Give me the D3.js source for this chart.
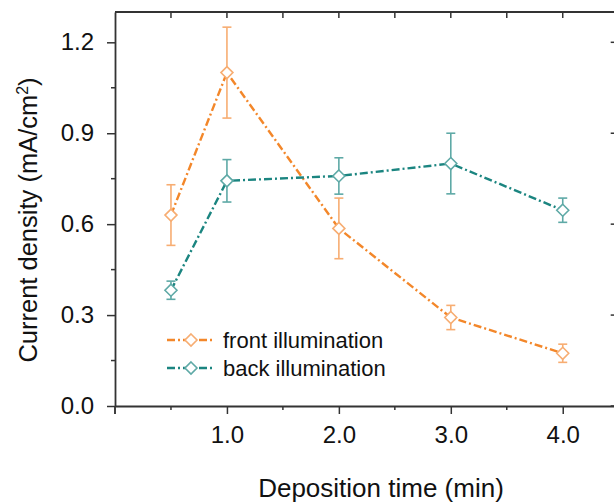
<!DOCTYPE html>
<html><head><meta charset="utf-8">
<script src="https://cdn.jsdelivr.net/npm/d3@7"></script>
<style>body{margin:0;background:#fff}svg{display:block;font-family:"Liberation Sans",Arial,sans-serif}</style>
</head><body>
<svg id="c" width="614" height="503"></svg>
<script>
const times = [0.5, 1.0, 2.0, 3.0, 4.0];
const frontValues = [0.63, 1.10, 0.586, 0.292, 0.174];
const frontErrors = [0.10, 0.15, 0.10, 0.04, 0.03];
const backValues = [0.382, 0.743, 0.759, 0.800, 0.646];
const backErrors = [0.03, 0.07, 0.06, 0.10, 0.04];
const seriesNames = ["front illumination", "back illumination"];
const xTickValues = [1.0, 2.0, 3.0, 4.0];
const yTickValues = [0.0, 0.3, 0.6, 0.9, 1.2];

const svg = d3.select("#c");
const L = 115, R = 618.7, T = 12, B = 406;
const x = d3.scaleLinear().domain([0, 4.5]).range([L, R]);
const y = d3.scaleLinear().domain([0, 1.3]).range([B, T]);
const axisColor = "#333";

const series = [
  {name: seriesNames[0], vals: frontValues, errs: frontErrors, line: "#f3872a", light: "#f7ad72"},
  {name: seriesNames[1], vals: backValues, errs: backErrors, line: "#1b8580", light: "#5ea9a6"}
];

// frame
const g = svg.append("g");
g.append("line").attr("x1", L).attr("x2", R).attr("y1", T).attr("y2", T).attr("stroke", axisColor).attr("stroke-width", 1.8);
g.append("line").attr("x1", R).attr("x2", R).attr("y1", T).attr("y2", B).attr("stroke", axisColor).attr("stroke-width", 1.8);

// bottom axis
const xMinor = d3.range(0.5, 4.5, 1);
const xb = svg.append("g").attr("transform", `translate(0,${B})`)
  .call(d3.axisBottom(x).tickValues(xTickValues).tickFormat(d3.format(".1f")).tickSize(8).tickPadding(12).tickSizeOuter(0));
xb.select(".domain").attr("stroke", axisColor).attr("stroke-width", 1.8);
xb.selectAll(".tick line").attr("stroke", axisColor).attr("stroke-width", 1.5);
xb.selectAll(".tick text").attr("font-size", 24).attr("fill", "#111").attr("font-family", "Liberation Sans, Arial, sans-serif");
xb.selectAll(".minor").data(xMinor.concat([0])).enter().append("line")
  .attr("x1", d => x(d)).attr("x2", d => x(d)).attr("y1", 0).attr("y2", d => d === 0 ? 8 : 4)
  .attr("stroke", axisColor).attr("stroke-width", 1.5);

// top ticks inward
const topTicks = d3.range(0.5, 4.5, 0.5);
svg.append("g").selectAll("line").data(topTicks).enter().append("line")
  .attr("x1", d => x(d)).attr("x2", d => x(d)).attr("y1", T).attr("y2", T + 6)
  .attr("stroke", axisColor).attr("stroke-width", 1.5);

// left axis
const yl = svg.append("g").attr("transform", `translate(${L},0)`)
  .call(d3.axisLeft(y).tickValues(yTickValues).tickFormat(d3.format(".1f")).tickSize(8).tickPadding(13).tickSizeOuter(0));
yl.select(".domain").attr("stroke", axisColor).attr("stroke-width", 1.8);
yl.selectAll(".tick line").attr("stroke", axisColor).attr("stroke-width", 1.5);
yl.selectAll(".tick text").attr("font-size", 24).attr("fill", "#111").attr("font-family", "Liberation Sans, Arial, sans-serif");
const yMinor = d3.range(0.15, 1.3, 0.3);
yl.selectAll(".minor").data(yMinor).enter().append("line")
  .attr("x1", -4).attr("x2", 0).attr("y1", d => y(d)).attr("y2", d => y(d))
  .attr("stroke", axisColor).attr("stroke-width", 1.5);
// extension of y axis below at origin
yl.append("line").attr("x1", 0).attr("x2", 0).attr("y1", B).attr("y2", B + 8).attr("stroke", axisColor).attr("stroke-width", 1.5);

// right ticks inward
svg.append("g").selectAll("line").data(yTickValues.concat(yMinor)).enter().append("line")
  .attr("x1", d => R - (yTickValues.includes(d) ? 8 : 4)).attr("x2", R).attr("y1", d => y(d)).attr("y2", d => y(d))
  .attr("stroke", axisColor).attr("stroke-width", 1.5);

// axis titles
svg.append("text").attr("x", 381).attr("y", 497).attr("text-anchor", "middle")
  .attr("font-size", 26).attr("fill", "#111").text("Deposition time (min)");
const yt = svg.append("text").attr("transform", "translate(37,220) rotate(-90)").attr("text-anchor", "middle")
  .attr("font-size", 25.5).attr("fill", "#111");
yt.append("tspan").text("Current density (mA/cm");
yt.append("tspan").attr("font-size", 16).attr("dy", -9).text("2");
yt.append("tspan").attr("dy", 9).text(")");

const dash = "8,3,2,3";
const diamond = d3.symbol().type(d3.symbolDiamond2 || d3.symbolDiamond).size(75);
function diamondPath(cx, cy, r) {
  return `M${cx},${cy - r}L${cx + r},${cy}L${cx},${cy + r}L${cx - r},${cy}Z`;
}

series.forEach(s => {
  const pts = times.map((t, i) => ({t, v: s.vals[i], e: s.errs[i]}));
  const sg = svg.append("g");
  // error bars
  pts.forEach(p => {
    sg.append("line").attr("x1", x(p.t)).attr("x2", x(p.t)).attr("y1", y(p.v + p.e)).attr("y2", y(p.v - p.e))
      .attr("stroke", s.light).attr("stroke-width", 1.6);
    [p.v + p.e, p.v - p.e].forEach(v => sg.append("line").attr("x1", x(p.t) - 4.5).attr("x2", x(p.t) + 4.5)
      .attr("y1", y(v)).attr("y2", y(v)).attr("stroke", s.light).attr("stroke-width", 1.6));
  });
  sg.append("path").datum(pts).attr("fill", "none").attr("stroke", s.line).attr("stroke-width", 2.4)
    .attr("stroke-dasharray", dash)
    .attr("d", d3.line().x(p => x(p.t)).y(p => y(p.v)));
  pts.forEach(p => {
    sg.append("path").attr("d", diamondPath(x(p.t), y(p.v), 6)).attr("fill", "#fff")
      .attr("stroke", s.light).attr("stroke-width", 1.6);
  });
});

// legend
const lg = svg.append("g");
series.forEach((s, i) => {
  const ly = 340 + i * 28;
  lg.append("line").attr("x1", 167).attr("x2", 212).attr("y1", ly).attr("y2", ly)
    .attr("stroke", s.line).attr("stroke-width", 2.4).attr("stroke-dasharray", dash);
  lg.append("path").attr("d", diamondPath(191, ly, 6)).attr("fill", "#fff").attr("stroke", s.light).attr("stroke-width", 1.6);
  lg.append("text").attr("x", 223).attr("y", ly + 8).attr("font-size", 22).attr("fill", "#111").text(s.name);
});
</script>
</body></html>
